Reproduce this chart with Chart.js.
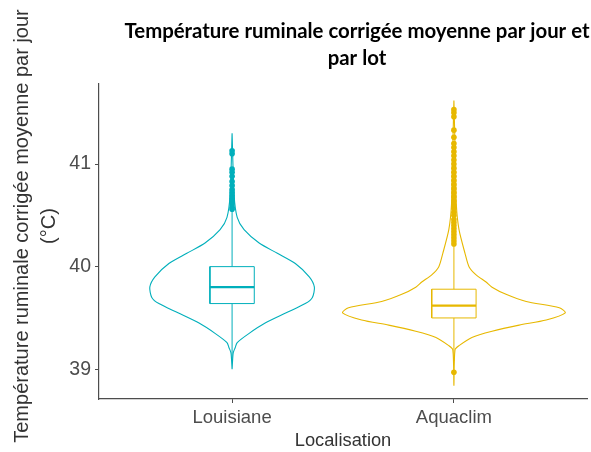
<!DOCTYPE html>
<html>
<head>
<meta charset="utf-8">
<script src="https://cdn.jsdelivr.net/npm/chart.js"></script>
<style>
  body { margin: 0; background: #fff; }
  canvas { display: block; }
</style>
</head>
<body>
<canvas id="violin" width="591" height="452"></canvas>
<script>
// groups on the x axis (positions 1 and 2)
const categories = ['Louisiane', 'Aquaclim'];
const colors = ['#00AFBB', '#E7B800'];
const yTicks = [39, 40, 41];

// violin outlines: temperature levels and half widths (x units)
const louisianeLevels = [39.00, 39.16, 39.21, 39.26, 39.35, 39.45, 39.55, 39.64, 39.70, 39.80, 39.90, 40.03, 40.13, 40.23, 40.36, 40.48, 40.70, 41.30];
const louisianeHalfWidth = [0, 0.005, 0.014, 0.023, 0.077, 0.149, 0.244, 0.330, 0.362, 0.371, 0.348, 0.285, 0.204, 0.122, 0.054, 0.023, 0.009, 0];
const aquaclimLevels = [38.84, 39.19, 39.23, 39.31, 39.37, 39.43, 39.48, 39.55, 39.60, 39.66, 39.73, 39.80, 39.85, 39.92, 40.00, 40.13, 40.36, 40.60, 41.00, 41.62];
const aquaclimHalfWidth = [0, 0.005, 0.023, 0.081, 0.172, 0.294, 0.416, 0.502, 0.475, 0.326, 0.235, 0.172, 0.145, 0.100, 0.068, 0.050, 0.023, 0.011, 0.007, 0];

// box plots: [lower whisker, Q1, median, Q3, upper whisker]
const louisianeBox = [39.10, 39.64, 39.80, 40.00, 40.54];
const aquaclimBox = [39.08, 39.50, 39.62, 39.78, 40.20];

// outliers
const louisianeOutliers = [40.56, 40.58, 40.61, 40.63, 40.66, 40.69, 40.72, 40.75, 40.79, 40.83, 40.88, 40.92, 40.95, 41.10, 41.13];
const aquaclimOutliers = [38.97, 40.22, 40.25, 40.28, 40.31, 40.34, 40.37, 40.40, 40.43, 40.46, 40.50, 40.53, 40.57, 40.60, 40.64, 40.68, 40.72, 40.76, 40.80, 40.84, 40.88, 40.92, 40.96, 41.00, 41.04, 41.08, 41.12, 41.16, 41.20, 41.26, 41.33, 41.46, 41.50, 41.53];

const titleLines = ['Température ruminale corrigée moyenne par jour et', 'par lot'];
const yTitleLines = ['Température ruminale corrigée moyenne par jour', '(°C)'];

const boxHalf = 0.1;

function violinPath(pos, levels, hw) {
    // right side bottom -> top, then left side top -> bottom
    const right = levels.map((y, i) => ({ x: pos + hw[i], y: y }));
    const left = levels.map((y, i) => ({ x: pos - hw[i], y: y })).reverse();
    return right.concat(left);
}

function boxDatasets(pos, box, color) {
    const [lo, q1, med, q3, hi] = box;
    const line = (data, width) => ({
        type: 'line', data: data, borderColor: color, borderWidth: width,
        pointRadius: 0, fill: false, tension: 0, showLine: true
    });
    return [
        line([{ x: pos, y: lo }, { x: pos, y: q1 }], 1),
        line([{ x: pos, y: q3 }, { x: pos, y: hi }], 1),
        line([{ x: pos - boxHalf, y: q1 }, { x: pos + boxHalf, y: q1 }, { x: pos + boxHalf, y: q3 },
              { x: pos - boxHalf, y: q3 }, { x: pos - boxHalf, y: q1 }], 1),
        line([{ x: pos - boxHalf, y: med }, { x: pos + boxHalf, y: med }], 2.2)
    ];
}

const groups = [
    { levels: louisianeLevels, hw: louisianeHalfWidth, box: louisianeBox, out: louisianeOutliers },
    { levels: aquaclimLevels, hw: aquaclimHalfWidth, box: aquaclimBox, out: aquaclimOutliers }
];

const datasets = [];
groups.forEach((g, i) => {
    const pos = i + 1;
    datasets.push({
        type: 'line',
        data: violinPath(pos, g.levels, g.hw),
        borderColor: colors[i],
        borderWidth: 1.1,
        pointRadius: 0,
        fill: false,
        tension: 0.25,
        showLine: true
    });
    boxDatasets(pos, g.box, colors[i]).forEach(d => datasets.push(d));
    datasets.push({
        type: 'scatter',
        data: g.out.map(v => ({ x: pos, y: v })),
        backgroundColor: colors[i],
        borderColor: colors[i],
        pointRadius: 2.8,
        borderWidth: 0
    });
});

// plot title and rotated y title, drawn by hand for placement
const textPlugin = {
    id: 'texts',
    afterDraw(chart) {
        const ctx = chart.ctx;
        ctx.save();
        ctx.fillStyle = '#000';
        ctx.textAlign = 'center';
        ctx.textBaseline = 'middle';
        // fit the first title line to ~465px like the reference
        ctx.font = 'bold 18px Lato';
        const w = ctx.measureText(titleLines[0]).width;
        const size = 18 * 465 / w;
        ctx.font = 'bold ' + size.toFixed(2) + 'px Lato';
        ctx.fillText(titleLines[0], 357, 31);
        ctx.fillText(titleLines[1], 357, 58);

        ctx.fillStyle = '#333';
        ctx.font = '20px "Liberation Sans"';
        ctx.translate(0, 226);
        ctx.rotate(-Math.PI / 2);
        ctx.fillText(yTitleLines[0], 0, 22);
        ctx.fillText(yTitleLines[1], 0, 49);
        ctx.restore();
    }
};

const axisColor = '#4d4d4d';

new Chart(document.getElementById('violin'), {
    type: 'scatter',
    data: { datasets: datasets },
    plugins: [textPlugin],
    options: {
        responsive: false,
        animation: false,
        layout: { padding: { top: 84, right: 4, left: 0, bottom: 0 } },
        plugins: {
            legend: { display: false },
            tooltip: { enabled: false }
        },
        scales: {
            x: {
                type: 'linear',
                min: 0.4,
                max: 2.6,
                afterBuildTicks: scale => { scale.ticks = categories.map((c, i) => ({ value: i + 1 })); },
                afterFit: scale => { scale.height = 53; },
                ticks: {
                    callback: v => categories[v - 1],
                    color: '#4d4d4d',
                    font: { family: 'Liberation Sans', size: 18.5 },
                    padding: 4
                },
                grid: { drawOnChartArea: false, drawTicks: true, tickLength: 4, color: axisColor },
                border: { display: true, color: axisColor, width: 1.2 },
                title: {
                    display: true,
                    text: 'Localisation',
                    color: '#333',
                    font: { family: 'Liberation Sans', size: 18.3 },
                    padding: { top: 0, bottom: 0 }
                }
            },
            y: {
                type: 'linear',
                min: 38.71,
                max: 41.78,
                afterBuildTicks: scale => { scale.ticks = yTicks.map(v => ({ value: v })); },
                afterFit: scale => { scale.width = 99; },
                ticks: {
                    color: '#4d4d4d',
                    font: { family: 'Liberation Sans', size: 19.5 },
                    padding: 4
                },
                grid: { drawOnChartArea: false, drawTicks: true, tickLength: 4, color: axisColor },
                border: { display: true, color: axisColor, width: 1.2 },
                title: { display: false }
            }
        }
    }
});
</script>
</body>
</html>
